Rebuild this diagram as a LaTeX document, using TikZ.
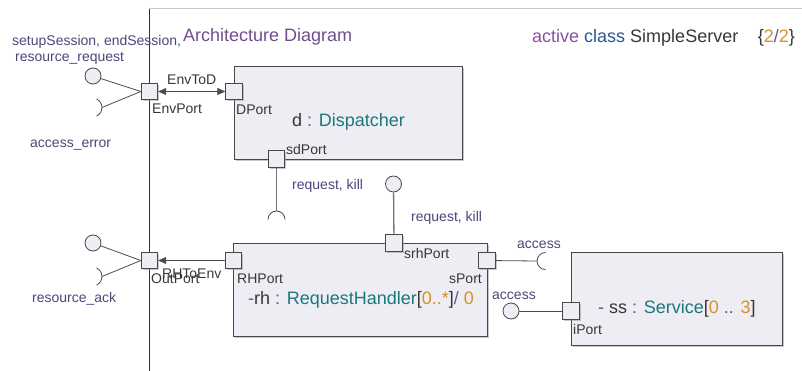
\documentclass[tikz,border=0pt]{standalone}
\usepackage{fontspec}
\setmainfont{Liberation Sans}
\usetikzlibrary{arrows.meta,shadows}

\definecolor{boxfill}{RGB}{238,237,244}
\definecolor{boxline}{RGB}{72,72,72}
\definecolor{ifcol}{RGB}{72,72,122}
\definecolor{purp}{RGB}{112,78,142}
\definecolor{kwpurp}{RGB}{140,80,155}
\definecolor{kwblue}{RGB}{45,85,150}
\definecolor{tealc}{RGB}{26,120,125}
\definecolor{orng}{RGB}{212,145,45}
\definecolor{txt}{RGB}{55,55,55}

\tikzset{
  part/.style={draw=boxline, fill=boxfill, line width=0.9pt, inner sep=0,
    drop shadow={shadow xshift=1.6pt, shadow yshift=-1.6pt, fill=black!40, opacity=0.55}},
  portbox/.style={part, minimum width=16.5pt, minimum height=16.5pt},
  ball/.style={circle, draw=boxline, fill=boxfill, line width=0.8pt, minimum size=16pt, inner sep=0},
  wire/.style={draw=black!70, line width=0.8pt, >={Triangle[length=8pt,width=7pt]}},
  thickwire/.style={draw=black!55, line width=1.3pt},
  sock/.style={draw=black!70, line width=0.8pt},
  lbl/.style={font=\fontsize{14}{16}\selectfont, text=txt, inner sep=0, anchor=base west},
  iflbl/.style={lbl, text=ifcol},
  big/.style={font=\fontsize{18}{21}\selectfont, text=txt, inner sep=0, anchor=base west}
}

\begin{document}
\begin{tikzpicture}[x=1pt,y=-1pt]
\useasboundingbox (0,0) rectangle (802,371);

% frame of the class
\draw[black!80, line width=0.9pt] (149,8) -- (149,371);
\draw[black!22, line width=0.9pt] (149,8) -- (802,8);

% headings
\node[big, text=purp] (title) at (183,42) {Architecture Diagram};
\node[big] (classname) at (532,42.5)
  {{\color{kwpurp}active} {\color{kwblue}class} SimpleServer};
\node[big, anchor=base east] (pagecount) at (795,42.5)
  {\{{\color{orng}2}{\color{purp}/}{\color{orng}2}\}};

% parts
\node[part, minimum width=228pt, minimum height=93pt] (disp) at (348,112.5) {};
\node[part, minimum width=254pt, minimum height=93pt] (rh) at (360,289.5) {};
\node[part, minimum width=211pt, minimum height=93pt] (ss) at (676.5,298.5) {};

\node[big] (disptext) at (292,127)
  {d {\color{purp}:} {\color{tealc}Dispatcher}};
\node[big] (rhtext) at (248,304)
  {{\color{purp}-}rh {\color{purp}:} {\color{tealc}RequestHandler}[{\color{orng}0..*}]{\color{purp}/} {\color{orng}0}};
\node[big] (sstext) at (598,313)
  {{\color{purp}-} ss {\color{purp}:} {\color{tealc}Service}[{\color{orng}0} {\color{purp}..} {\color{orng}3}]};

% ports
\node[portbox] (envport) at (149.5,91.5) {};
\node[portbox] (dport) at (234,91.5) {};
\node[portbox] (sdport) at (276.5,159) {};
\node[portbox] (srhport) at (394,243) {};
\node[portbox] (rhport) at (233.5,260.5) {};
\node[portbox] (sport) at (487,260.5) {};
\node[portbox] (iport) at (571,311) {};
\node[portbox] (outport) at (149.5,260.5) {};

% port names
\node[lbl] (envportl) at (152,114) {EnvPort};
\node[lbl] (dportl) at (236,114.5) {DPort};
\node[lbl] (sdportl) at (286,154.5) {sdPort};
\node[lbl] (srhportl) at (404,258) {srhPort};
\node[lbl] (rhportl) at (237,283) {RHPort};
\node[lbl, anchor=base east] (sportl) at (482,283) {sPort};
\node[lbl] (iportl) at (573,334) {iPort};
\node[lbl] (outportl) at (151,283) {OutPort};

% connector names
\node[lbl] (envtodl) at (167,85) {EnvToD};
\node[lbl] (rhtoenvl) at (162,278) {RHToEnv};

% provided interfaces
\node[ball] (ballA) at (93,76) {};
\node[ball] (ballB) at (93,243) {};
\node[ball] (ballC) at (393.5,184) {};
\node[ball] (ballD) at (511,311) {};

% required interfaces
\coordinate (sockA) at (102,107.5);
\coordinate (sockB) at (102,276.5);
\coordinate (sockC) at (276.5,211);
\coordinate (sockD) at (537,261);
\draw[sock] (sockA) ++(-9.5,0) ++(-65:9.5) arc[start angle=-65, end angle=65, radius=9.5];
\draw[sock] (sockB) ++(-9.5,0) ++(-65:9.5) arc[start angle=-65, end angle=65, radius=9.5];
\draw[sock] (sockC) ++(0,8.5) ++(180:8.5) arc[start angle=180, end angle=360, radius=8.5];
\draw[sock] (sockD) ++(8.5,0) ++(90:8.5) arc[start angle=90, end angle=270, radius=8.5];

% interface names
\node[iflbl] (ifA1) at (12,46) {setupSession, endSession,};
\node[iflbl] (ifA2) at (15,62) {resource\_request};
\node[iflbl] (ifA3) at (30,148) {access\_error};
\node[iflbl] (ifB) at (32,302) {resource\_ack};
\node[iflbl] (ifC1) at (292,190) {request, kill};
\node[iflbl] (ifC2) at (411,222) {request, kill};
\node[iflbl] (ifD1) at (517,248) {access};
\node[iflbl] (ifD2) at (492,299) {access};

% wiring
\draw[wire] (envport.west) -- (ballA);
\draw[wire] (envport.west) -- (sockA);
\draw[wire] (outport.west) -- (ballB);
\draw[wire] (outport.west) -- (sockB);
\draw[wire, <->] (envport) -- (dport);
\draw[wire, ->] (rhport) -- (outport);
\draw[thickwire] (sdport) -- (sockC);
\draw[thickwire] (srhport) -- (ballC);
\draw[wire] (sport) -- (sockD);
\draw[wire] (iport) -- (ballD);
\end{tikzpicture}
\end{document}
